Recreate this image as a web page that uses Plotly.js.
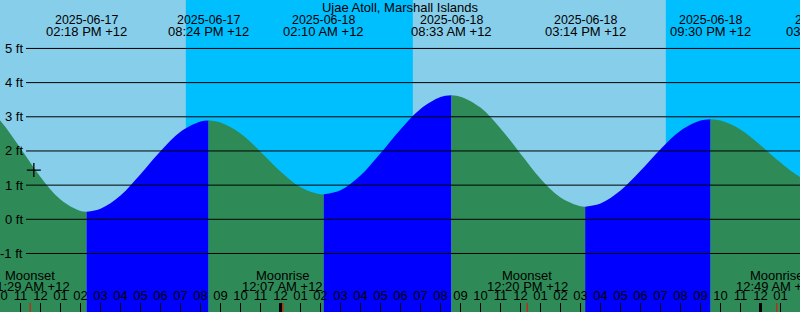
<!DOCTYPE html>
<html><head><meta charset="utf-8">
<script src="https://cdn.plot.ly/plotly-3.0.1.min.js"></script>
<style>html,body{margin:0;padding:0;overflow:hidden;background:#87CEEB}</style>
</head><body><div id="chart" style="width:800px;height:312px"></div>
<script>
// ---------------- data ----------------
const chartTitle = 'Ujae Atoll, Marshall Islands';

// hourly water heights (ft)
const sampleTimes = [
  '2025-06-17 09:00','2025-06-17 10:00','2025-06-17 11:00','2025-06-17 12:00','2025-06-17 13:00',
  '2025-06-17 14:00','2025-06-17 15:00','2025-06-17 16:00','2025-06-17 17:00','2025-06-17 18:00',
  '2025-06-17 19:00','2025-06-17 20:00','2025-06-17 21:00','2025-06-17 22:00','2025-06-17 23:00',
  '2025-06-18 00:00','2025-06-18 01:00','2025-06-18 02:00','2025-06-18 03:00','2025-06-18 04:00',
  '2025-06-18 05:00','2025-06-18 06:00','2025-06-18 07:00','2025-06-18 08:00','2025-06-18 09:00',
  '2025-06-18 10:00','2025-06-18 11:00','2025-06-18 12:00','2025-06-18 13:00','2025-06-18 14:00',
  '2025-06-18 15:00','2025-06-18 16:00','2025-06-18 17:00','2025-06-18 18:00','2025-06-18 19:00',
  '2025-06-18 20:00','2025-06-18 21:00','2025-06-18 22:00','2025-06-18 23:00','2025-06-19 00:00',
  '2025-06-19 01:00','2025-06-19 02:00','2025-06-19 03:00'
];
const sampleHeights = [
  3.43, 2.88, 2.08, 1.24, 0.58,
  0.24, 0.31, 0.70, 1.32, 1.99,
  2.56, 2.86, 2.83, 2.51, 1.98,
  1.40, 0.94, 0.73, 0.85, 1.28,
  1.93, 2.63, 3.23, 3.58, 3.59,
  3.27, 2.66, 1.92, 1.19, 0.64,
  0.38, 0.46, 0.84, 1.42, 2.05,
  2.59, 2.89, 2.89, 2.63, 2.17,
  1.66, 1.23, 1.01
];

// high / low tide events
const extremeTimes = ['2025-06-17 08:06','2025-06-17 14:18','2025-06-17 20:24','2025-06-18 02:10',
                      '2025-06-18 08:33','2025-06-18 15:14','2025-06-18 21:30','2025-06-19 03:18'];
const extremeHeights = [3.6, 0.22, 2.89, 0.73, 3.63, 0.37, 2.93, 1.0];
const extremeDateLabels = ['2025-06-17','2025-06-17','2025-06-17','2025-06-18','2025-06-18','2025-06-18','2025-06-18','2025-06-19'];
const extremeTimeLabels = ['08:06 AM +12','02:18 PM +12','08:24 PM +12','02:10 AM +12','08:33 AM +12','03:14 PM +12','09:30 PM +12','03:18 AM +12'];
const extremeShown = [false, true, true, true, true, true, true, true];

// sun (day = light, night = deep blue)
const sunsetTimes  = ['2025-06-17 19:16','2025-06-18 19:16'];
const sunriseTimes = ['2025-06-18 06:37','2025-06-19 06:37'];

// moon events
const moonNames = ['Moonset','Moonrise','Moonset','Moonrise'];
const moonTimes = ['2025-06-17 11:29','2025-06-18 00:07','2025-06-18 12:20','2025-06-19 00:49'];
const moonTimeLabels = ['11:29 AM +12','12:07 AM +12','12:20 PM +12','12:49 AM +12'];

const midnights = ['2025-06-18 00:00','2025-06-19 00:00'];

const nowTime = '2025-06-17 11:40';
const nowHeight = 1.44;

const yTickValues = [-1, 0, 1, 2, 3, 4, 5];
const yTickLabels = ['-1 ft','0 ft','1 ft','2 ft','3 ft','4 ft','5 ft'];

const xRange = ['2025-06-17 09:58:30', '2025-06-19 01:58:30'];
const yRange = [-2.713, 6.418];

// ---------------- build ----------------
const W = 800, H = 312;
const FONT = 'Liberation Sans, Arial, sans-serif';
const toMs = s => {
  const [d, t] = s.split(' ');
  const [Y, M, D] = d.split('-').map(Number);
  const p = t.split(':').map(Number);
  return Date.UTC(Y, M - 1, D, p[0], p[1], p[2] || 0);
};
const x0ms = toMs(xRange[0]), x1ms = toMs(xRange[1]);
const inRange = s => { const m = toMs(s); return m >= x0ms && m <= x1ms; };
const toPaper = s => (toMs(s) - x0ms) / (x1ms - x0ms);
const pyPaper = px => 1 - px / H;

const pts = [];
sampleTimes.forEach((t, i) => pts.push({t, ms: toMs(t), y: sampleHeights[i]}));
extremeTimes.forEach((t, i) => pts.push({t, ms: toMs(t), y: extremeHeights[i]}));
pts.sort((a, b) => a.ms - b.ms);

const traces = [];
const baseY = yRange[0] - 1;
for (let i = 0; i < extremeTimes.length - 1; i++) {
  const a = toMs(extremeTimes[i]), b = toMs(extremeTimes[i + 1]);
  const seg = pts.filter(p => p.ms >= a && p.ms <= b);
  const uniq = seg.filter((p, k) => k === 0 || p.ms !== seg[k - 1].ms);
  const rising = extremeHeights[i + 1] > extremeHeights[i];
  const col = rising ? '#0000FF' : '#2E8B57';
  traces.push({x: [extremeTimes[i], extremeTimes[i + 1]], y: [baseY, baseY], mode: 'lines',
    line: {width: 0}, hoverinfo: 'skip', showlegend: false});
  traces.push({x: uniq.map(p => p.t), y: uniq.map(p => p.y), mode: 'lines',
    line: {shape: 'spline', smoothing: 1, width: 0, color: col}, fill: 'tonexty', fillcolor: col,
    hoverinfo: 'skip', showlegend: false});
}
traces.push({x: [nowTime], y: [nowHeight], mode: 'markers', showlegend: false, hoverinfo: 'skip',
  marker: {symbol: 'cross-thin', size: 10, color: 'black', line: {color: 'black', width: 1.3}}});

const shapes = [];
// night bands
sunsetTimes.forEach((s, i) => shapes.push({type: 'rect', xref: 'x', yref: 'paper', x0: s, x1: sunriseTimes[i],
  y0: 0, y1: 1, fillcolor: '#00BFFF', line: {width: 0}, layer: 'below'}));
// grid lines
yTickValues.forEach(v => shapes.push({type: 'line', xref: 'paper', yref: 'y', x0: 26 / W, x1: 1, y0: v, y1: v,
  line: {color: 'black', width: 1}, layer: 'above'}));
// midnight ticks
midnights.forEach(m => shapes.push({type: 'line', xref: 'x', yref: 'paper', x0: m, x1: m, y0: 0, y1: 9 / H,
  line: {color: 'black', width: 3}, layer: 'above'}));
// moon ticks
moonTimes.forEach(m => shapes.push({type: 'line', xref: 'x', yref: 'paper', x0: m, x1: m, y0: 0, y1: 9 / H,
  line: {color: 'red', width: 1}, layer: 'above'}));

const annotations = [];
const ann = (t, yPaper, text, size) => {
  const o = {text, showarrow: false, yref: 'paper', y: yPaper, yanchor: 'middle', xanchor: 'center',
    font: {family: FONT, size: size || 13, color: 'black'}};
  if (inRange(t)) { o.xref = 'x'; o.x = t; } else { o.xref = 'paper'; o.x = toPaper(t); }
  return o;
};
extremeTimes.forEach((t, i) => {
  if (!extremeShown[i]) return;
  annotations.push(ann(t, pyPaper(19.5), extremeDateLabels[i], 12.4));
  annotations.push(ann(t, pyPaper(31.5), extremeTimeLabels[i]));
});
moonTimes.forEach((t, i) => {
  annotations.push(ann(t, pyPaper(275), moonNames[i]));
  annotations.push(ann(t, pyPaper(286), moonTimeLabels[i]));
});
yTickValues.forEach((v, i) => annotations.push({text: yTickLabels[i], showarrow: false, xref: 'paper', x: 25 / W,
  xanchor: 'right', yref: 'y', y: v, yanchor: 'middle', font: {family: FONT, size: 13, color: 'black'}}));

const layout = {
  width: W, height: H,
  margin: {l: 0, r: 0, t: 0, b: 0, pad: 0},
  paper_bgcolor: '#87CEEB', plot_bgcolor: '#87CEEB',
  font: {family: FONT, size: 13, color: 'black'},
  title: {text: chartTitle, x: 0.5, xanchor: 'center', y: pyPaper(7.5), yanchor: 'middle',
    font: {family: FONT, size: 13, color: 'black'}},
  showlegend: false,
  xaxis: {type: 'date', range: xRange, tickmode: 'linear', tick0: '2025-06-17 00:00', dtick: 3600000,
    tickformat: '%I', ticks: 'inside', ticklen: 9, tickwidth: 1, tickcolor: 'black',
    ticklabelposition: 'inside', ticklabeloverflow: 'allow', showgrid: false, zeroline: false, showline: false,
    tickfont: {family: FONT, size: 13, color: 'black'}, fixedrange: true},
  yaxis: {range: yRange, visible: false, showgrid: false, zeroline: false, fixedrange: true},
  shapes, annotations
};

Plotly.newPlot('chart', traces, layout, {staticPlot: true, displayModeBar: false});
</script></body></html>
